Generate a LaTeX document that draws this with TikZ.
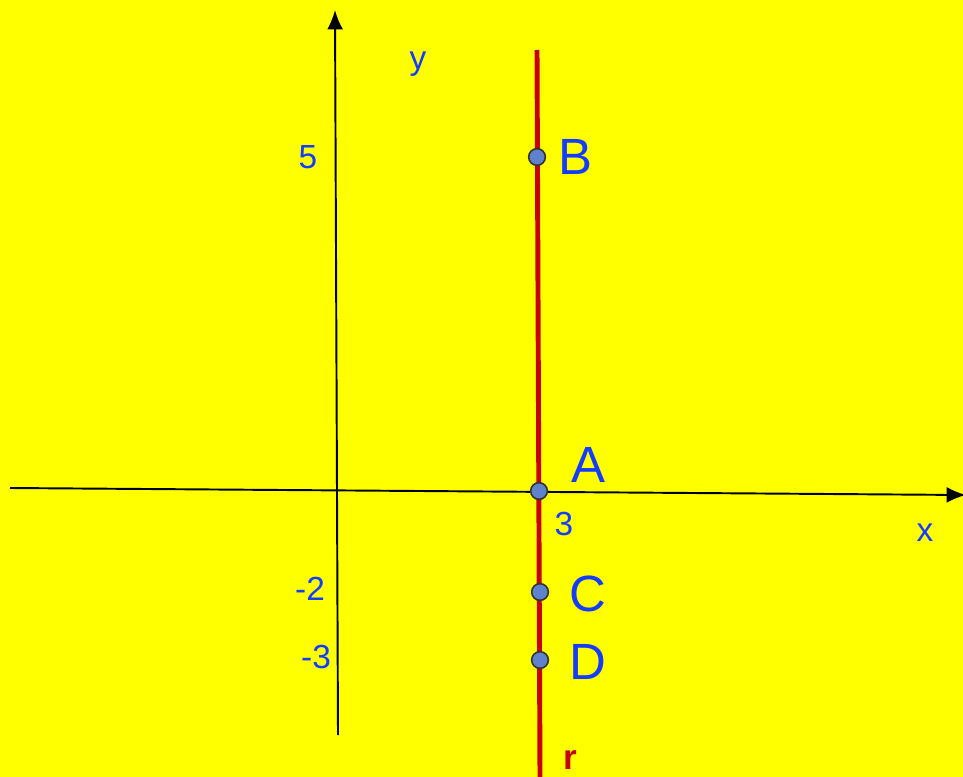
\documentclass[tikz,border=0pt]{standalone}
\usepackage{fontspec}
\setmainfont{Liberation Sans}
\usetikzlibrary{arrows.meta,positioning}
\definecolor{PlaneYellow}{RGB}{255,255,0}
\definecolor{LabelBlue}{RGB}{20,60,255}
\definecolor{LineRed}{RGB}{200,0,0}
\definecolor{PointBlue}{RGB}{95,130,205}
\begin{document}
\begin{tikzpicture}[x=0.02cm,y=-0.02cm,>={Latex[length=11pt,width=9pt]},
 pt/.style={circle,draw=black!80,fill=PointBlue,line width=0.9pt,inner sep=0pt,minimum size=9.5pt},
 num/.style={text=LabelBlue,font=\fontsize{19}{19}\selectfont,inner sep=0pt},
 letter/.style={text=LabelBlue,font=\fontsize{29}{29}\selectfont,inner sep=0pt}]
\fill[PlaneYellow] (0,0) rectangle (963,777);
\useasboundingbox (0,0) rectangle (963,777);
% axes
\coordinate (xl) at (10,488);
\coordinate (xr) at (966,495);
\coordinate (yb) at (338,735);
\coordinate (yt) at (335,10);
\draw[->,line width=1.1pt] (xl) -- (xr);
\draw[->,line width=1.1pt] (yb) -- (yt);
% line r
\coordinate (rt) at (537,50);
\coordinate (rb) at (540,777);
\draw[LineRed,line width=2.8pt] (rt) -- (rb);
\node[pt] (B) at (537,157) {};
\node[pt] (A) at (539,491) {};
\node[pt] (C) at (540,592) {};
\node[pt] (D) at (540,660) {};
% labels
\node[letter] at (575,157) {B};
\node[letter] at (588,465) {A};
\node[letter] at (588,594) {C};
\node[letter] at (588,662) {D};
\node[num] at (564,524) {3};
\node[num] at (308,157) {5};
\node[num] at (310,589) {-2};
\node[num] at (316,657) {-3};
\node[num] at (925,533) {x};
\node[num] at (418,64) {y};
\node[text=LineRed,font=\fontsize{20}{20}\selectfont\bfseries,inner sep=0pt] at (570,760) {r};
\end{tikzpicture}
\end{document}
